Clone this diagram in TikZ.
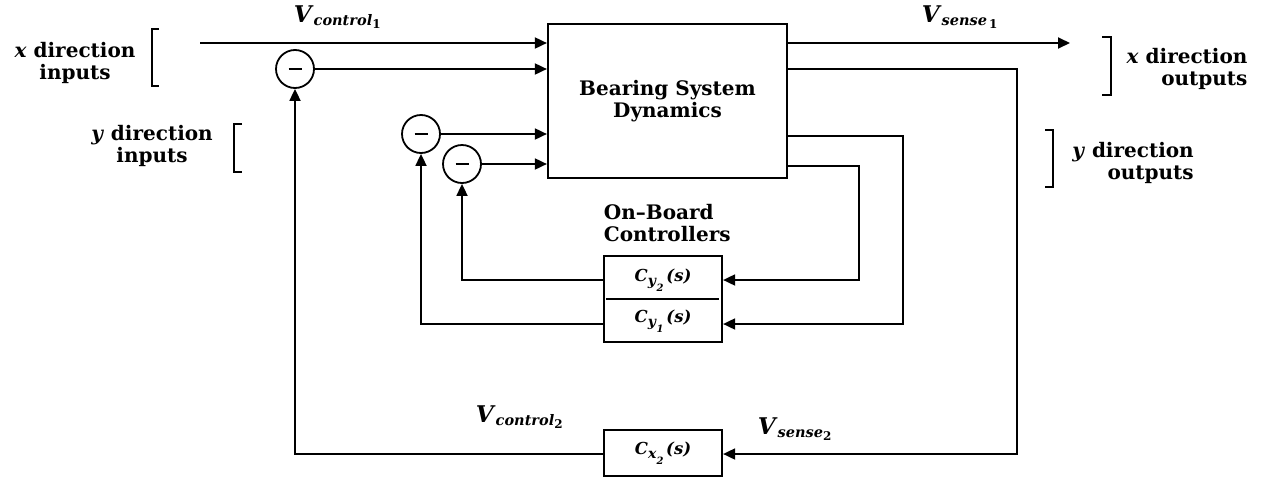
\documentclass[tikz,border=0pt]{standalone}
\usepackage{fontspec}
\setmainfont{DejaVu Serif}
\usetikzlibrary{arrows.meta}

% signal names and controller names
\newcommand{\sigV}[2]{\textit{\fontsize{23}{23}\selectfont V}\raisebox{-3pt}{\textit{\fontsize{14.5}{14.5}\selectfont #1}}\raisebox{-6pt}{\fontsize{12}{12}\selectfont #2}}
\newcommand{\ctf}[2]{\textit{C}\raisebox{-4pt}{\fontsize{14}{14}\selectfont\textit{#1}\raisebox{-6pt}{\fontsize{10}{10}\selectfont\textit{#2}}}\,\textit{(s)}}

\begin{document}
\begin{tikzpicture}[x=1pt,y=-1pt,line width=1.8pt,
    txt/.style={font=\fontsize{20}{21.5}\selectfont\bfseries,inner sep=0pt},
    ctxt/.style={font=\fontsize{16.5}{16.5}\selectfont\bfseries,inner sep=0pt},
    blk/.style={draw,rectangle,line width=2.2pt,inner sep=0pt},
    sumnode/.style={draw,circle,minimum size=38pt,inner sep=0pt},
    sig/.style={-{Triangle[length=12pt,width=11pt]}}]
    \useasboundingbox (0,0) rectangle (1265,477);

    % Blocs
    \node[blk,txt,align=center,minimum width=239pt,minimum height=154pt] (bsd) at (667.5,101) {Bearing System\\Dynamics};
    \node[blk,minimum width=118pt,minimum height=86pt] (cy) at (663,299) {};
    \node[ctxt] (cy2) at (663,280) {\ctf{y}{2}};
    \node[ctxt] (cy1) at (663,321) {\ctf{y}{1}};
    \draw[line width=2pt] ([xshift=3pt]cy.west) -- ([xshift=-4pt]cy.east);
    \node[blk,ctxt,minimum width=118pt,minimum height=46pt] (cx) at (663,453) {\ctf{x}{2}};

    % Sommateurs
    \node[sumnode] (sx) at (295,69) {\rule[-0.9pt]{13pt}{1.8pt}};
    \node[sumnode] (sy2) at (421,134) {\rule[-0.9pt]{13pt}{1.8pt}};
    \node[sumnode] (sy1) at (462,164) {\rule[-0.9pt]{13pt}{1.8pt}};

    % Points de passage
    \coordinate (xin) at (200,43);
    \coordinate (xout) at (1070,43);
    \coordinate (xfb) at (1017,454);
    \coordinate (yfa) at (903,324);
    \coordinate (yfb) at (859,280);

    % Entrees
    \draw[sig] (xin) -- (bsd.west |- xin);
    \draw[sig] (sx.east) -- (bsd.west |- sx.east);
    \draw[sig] (sy2.east) -- (bsd.west |- sy2.east);
    \draw[sig] (sy1.east) -- (bsd.west |- sy1.east);

    % Sorties et retours
    \draw[sig] (bsd.east |- xout) -- (xout);
    \draw[sig] (bsd.east |- sx) -- (xfb |- sx) -- (xfb) -- (cx.east |- xfb);
    \draw[sig] (cx.west |- xfb) -| (sx.south);
    \draw[sig] (bsd.east |- 0,136) -- (yfa |- 0,136) -- (yfa) -- (cy.east |- yfa);
    \draw[sig] (bsd.east |- 0,166) -- (yfb |- 0,166) -- (yfb) -- (cy.east |- yfb);
    \draw[sig] (cy.west |- yfb) -| (sy1.south);
    \draw[sig] (cy.west |- yfa) -| (sy2.south);

    % Crochets
    \draw (159,29) -- (152,29) -- (152,86) -- (159,86);
    \draw (242,124) -- (234,124) -- (234,172) -- (242,172);
    \draw (1102,37) -- (1111,37) -- (1111,95) -- (1102,95);
    \draw (1045,130) -- (1053,130) -- (1053,187) -- (1045,187);

    % Etiquettes
    \node[txt,align=center] (xinl) at (75,63) {\textit{x} direction\\inputs};
    \node[txt,align=center] (yinl) at (152,146) {\textit{y} direction\\inputs};
    \node[txt,align=right] (xoutl) at (1187,69) {\textit{x} direction\\outputs};
    \node[txt,align=right] (youtl) at (1133,163) {\textit{y} direction\\outputs};
    \node[txt,align=left,anchor=west] (obc) at (603,223) {On--Board\\Controllers};
    \node[txt,anchor=base west] (vc1) at (293,22) {\sigV{control}{1}};
    \node[txt,anchor=base west] (vs1) at (921,22) {\sigV{sense}{\,1}};
    \node[txt,anchor=base west] (vc2) at (475,422) {\sigV{control}{2}};
    \node[txt,anchor=base west] (vs2) at (757,434) {\sigV{sense}{2}};
\end{tikzpicture}
\end{document}
